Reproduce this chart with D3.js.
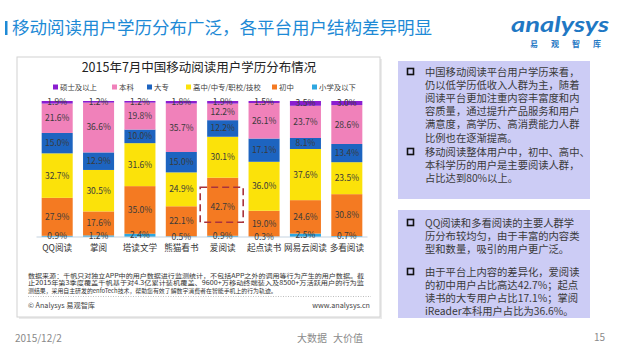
<!DOCTYPE html>
<html>
<head>
<meta charset="utf-8">
<script src="https://cdn.jsdelivr.net/npm/d3@7"></script>
<style>
  body { margin: 0; background: #fff; }
  svg { display: block; font-family: "Microsoft YaHei", "Noto Sans CJK SC", sans-serif; }
</style>
</head>
<body>
<div id="chart"></div>
<script>
// platforms along the x axis
const platforms = ["QQ阅读", "掌阅", "塔读文学", "熊猫看书", "爱阅读", "起点读书", "网易云阅读", "多看阅读"];

// education levels, bottom of the stack first
const levels = ["小学及以下", "初中", "高中/中专/职校/技校", "大专", "本科", "硕士及以上"];
const levelColors = ["#2EA7E0", "#F47A22", "#FBE20A", "#1D64C0", "#F081BA", "#8A1ED0"];

// share (%) for each level, one value per platform
const primary    = [0.9, 1.2, 2.4, 0.5, 0.9, 0.3, 2.5, 0.7];
const juniorHigh = [27.9, 17.6, 35.0, 22.1, 42.7, 19.0, 24.6, 30.8];
const highSchool = [32.7, 30.5, 31.6, 24.9, 30.1, 36.0, 37.6, 23.5];
const college    = [15.0, 12.9, 10.0, 15.0, 12.2, 17.1, 8.1, 13.4];
const bachelor   = [21.6, 36.6, 19.8, 35.7, 12.2, 26.1, 23.7, 28.6];
const master     = [1.9, 1.2, 1.2, 1.8, 1.9, 1.5, 3.5, 3.0];

const seriesValues = [primary, juniorHigh, highSchool, college, bachelor, master];

const highlight = { platform: "爱阅读", level: "初中" };

const notes1 = [
  ["中国移动阅读平台用户学历来看，", "仍以低学历低收入人群为主，随着", "阅读平台更加注重内容丰富度和内", "容质量，通过提升产品服务和用户", "满意度，高学历、高消费能力人群", "比例也在逐渐提高。"],
  ["移动阅读整体用户中，初中、高中、", "本科学历的用户是主要阅读人群，", "占比达到80%以上。"]
];
const notes2 = [
  ["QQ阅读和多看阅读的主要人群学", "历分布较均匀，由于丰富的内容类", "型和数量，吸引的用户更广泛。"],
  ["由于平台上内容的差异化，爱阅读", "的初中用户占比高达42.7%；起点", "读书的大专用户占比17.1%；掌阅", "iReader本科用户占比为36.6%。"]
];

const sourceLines = [
  "数据来源：千帆只对独立APP中的用户数据进行监测统计，不包括APP之外的调用等行为产生的用户数据。截",
  "止2015年第3季度覆盖千帆基于对4.3亿累计装机覆盖、9600+万移动终端装入及8500+万活跃用户的行为监",
  "测结果，采用自主研发的enfoTech技术，帮助您有效了解数字消费者在智能手机上的行为轨迹。"
];

const width = 624, height = 350;

const svg = d3.select("#chart").append("svg")
  .attr("width", width)
  .attr("height", height);

// ---- header ----
svg.append("rect").attr("x", 5).attr("y", 21).attr("width", 2.5).attr("height", 14).attr("fill", "#1E8AD6");
svg.append("text")
  .attr("x", 12).attr("y", 34)
  .attr("font-size", 17.5)
  .attr("fill", "#1E8AD6")
  .text("移动阅读用户学历分布广泛，各平台用户结构差异明显");

svg.append("text")
  .attr("x", 511).attr("y", 32)
  .attr("font-size", 20)
  .attr("font-style", "italic")
  .attr("font-weight", 700)
  .attr("font-family", "Lato, sans-serif")
  .attr("fill", "#1F78C4")
  .attr("textLength", 98)
  .attr("lengthAdjust", "spacingAndGlyphs")
  .text("analysys");
svg.append("text")
  .attr("x", 530).attr("y", 47)
  .attr("font-size", 8)
  .attr("font-weight", 700)
  .attr("fill", "#1F78C4")
  .attr("letter-spacing", 13)
  .text("易观智库");

// ---- chart panel ----
svg.append("rect").attr("x", 19).attr("y", 59).attr("width", 363).attr("height", 260).attr("fill", "#EBEBEB");
svg.append("rect").attr("x", 17).attr("y", 57).attr("width", 363).attr("height", 260)
  .attr("fill", "#fff").attr("stroke", "#D2D2D2").attr("stroke-width", 1);

svg.append("text")
  .attr("x", 199).attr("y", 72)
  .attr("text-anchor", "middle")
  .attr("font-size", 12.5)
  .attr("fill", "#222")
  .text("2015年7月中国移动阅读用户学历分布情况");

// legend (top of stack first), marker x positions as in the slide
const legendOrder = d3.range(levels.length).reverse();
const legendX = [53, 112, 147, 186, 272, 312];
legendOrder.forEach((i, k) => {
  const g = svg.append("g").attr("transform", `translate(${legendX[k]},87)`);
  g.append("rect").attr("x", 0).attr("y", -2.5).attr("width", 5).attr("height", 5).attr("fill", levelColors[i]);
  g.append("text").attr("x", 7).attr("y", 0).attr("dy", "0.35em")
    .attr("font-size", 7.4).attr("fill", "#404040").text(levels[i]);
});

const x = d3.scaleBand()
  .domain(platforms)
  .range([36.5, 367.5])
  .paddingInner(0.25)
  .paddingOuter(0.125);

const y = d3.scaleLinear()
  .domain([0, 100])
  .range([237, 101]);

const rows = platforms.map((p, j) => {
  const row = { platform: p };
  levels.forEach((l, i) => { row[l] = seriesValues[i][j]; });
  return row;
});

const stack = d3.stack().keys(levels);
const stacked = stack(rows);

const layer = svg.selectAll(".layer")
  .data(stacked)
  .enter().append("g")
  .attr("class", "layer")
  .attr("fill", (d, i) => levelColors[i]);

layer.selectAll("rect")
  .data(d => d)
  .enter().append("rect")
  .attr("x", d => x(d.data.platform))
  .attr("y", d => y(d[1]))
  .attr("width", x.bandwidth())
  .attr("height", d => y(d[0]) - y(d[1]));

// axis line
svg.append("line")
  .attr("x1", x.range()[0]).attr("x2", x.range()[1])
  .attr("y1", y(0)).attr("y2", y(0))
  .attr("stroke", "#C5D3E0").attr("stroke-width", 1);

// value labels
stacked.forEach(s => {
  svg.append("g").selectAll("text")
    .data(s)
    .enter().append("text")
    .attr("x", d => x(d.data.platform) + x.bandwidth() / 2)
    .attr("y", d => y((d[0] + d[1]) / 2))
    .attr("dy", "0.35em")
    .attr("text-anchor", "middle")
    .attr("font-size", 8.5)
    .attr("fill", "#3A3A3A")
    .text(d => d.data[s.key].toFixed(1) + "%");
});

// highlight box
const hs = stacked.find(s => s.key === highlight.level);
const hd = hs.find(d => d.data.platform === highlight.platform);
const hcx = x(highlight.platform) + x.bandwidth() / 2 - 1;
const hcy = y((hd[0] + hd[1]) / 2) - 2;
svg.append("rect")
  .attr("x", hcx - 21.5).attr("y", hcy - 17.5)
  .attr("width", 43).attr("height", 35)
  .attr("fill", "none")
  .attr("stroke", "#A8323C")
  .attr("stroke-width", 1.6)
  .attr("stroke-dasharray", "7,4");

// x axis labels
const xAxis = d3.axisBottom(x).tickSize(0).tickPadding(8);
const xg = svg.append("g").attr("transform", `translate(0,${y(0)})`).call(xAxis);
xg.select(".domain").remove();
xg.selectAll("text")
  .attr("font-size", 8.6)
  .attr("font-family", "\"Microsoft YaHei\", \"Noto Sans CJK SC\", sans-serif")
  .attr("fill", "#333");

// source note
sourceLines.forEach((line, i) => {
  const t = svg.append("text")
    .attr("x", 28).attr("y", 278 + i * 7.3)
    .attr("font-size", 5.9)
    .attr("fill", "#333")
    .text(line);
  if (i < 2) t.attr("textLength", 336).attr("lengthAdjust", "spacingAndGlyphs");
});
svg.append("line")
  .attr("x1", 28).attr("x2", 371).attr("y1", 296.5).attr("y2", 296.5)
  .attr("stroke", "#BDBDBD").attr("stroke-dasharray", "1,1.5");
svg.append("text").attr("x", 28).attr("y", 308)
  .attr("font-size", 7.2).attr("fill", "#444").text("© Analysys 易观智库");
svg.append("text").attr("x", 370).attr("y", 308).attr("text-anchor", "end")
  .attr("font-size", 7.2).attr("fill", "#444").text("www.analysys.cn");

// ---- note boxes ----
function noteBox(y0, h, paras, paraStarts) {
  svg.append("rect").attr("x", 398).attr("y", y0).attr("width", 192).attr("height", h).attr("fill", "#CCCCF5");
  paras.forEach((lines, p) => {
    const top = paraStarts[p];
    svg.append("rect").attr("x", 407.5).attr("y", top - 3.5).attr("width", 6).attr("height", 6)
      .attr("fill", "none").attr("stroke", "#111").attr("stroke-width", 1.6);
    lines.forEach((line, k) => {
      svg.append("text")
        .attr("x", 425).attr("y", top + k * 13.2)
        .attr("dy", "0.35em")
        .attr("font-size", 10.3)
        .attr("fill", "#3A3A3A")
        .text(line);
    });
  });
}
noteBox(61, 138, notes1, [72, 152]);
noteBox(210, 108, notes2, [223, 272]);

// ---- footer ----
svg.append("text").attr("x", 15).attr("y", 342).attr("font-size", 10).attr("fill", "#8A8A8A").text("2015/12/2");
svg.append("text").attr("x", 297).attr("y", 342).attr("font-size", 10).attr("fill", "#8A8A8A").text("大数据");
svg.append("text").attr("x", 333).attr("y", 342).attr("font-size", 10).attr("fill", "#8A8A8A").text("大价值");
svg.append("text").attr("x", 605).attr("y", 341).attr("text-anchor", "end").attr("font-size", 10).attr("fill", "#8A8A8A").text("15");
</script>
</body>
</html>
